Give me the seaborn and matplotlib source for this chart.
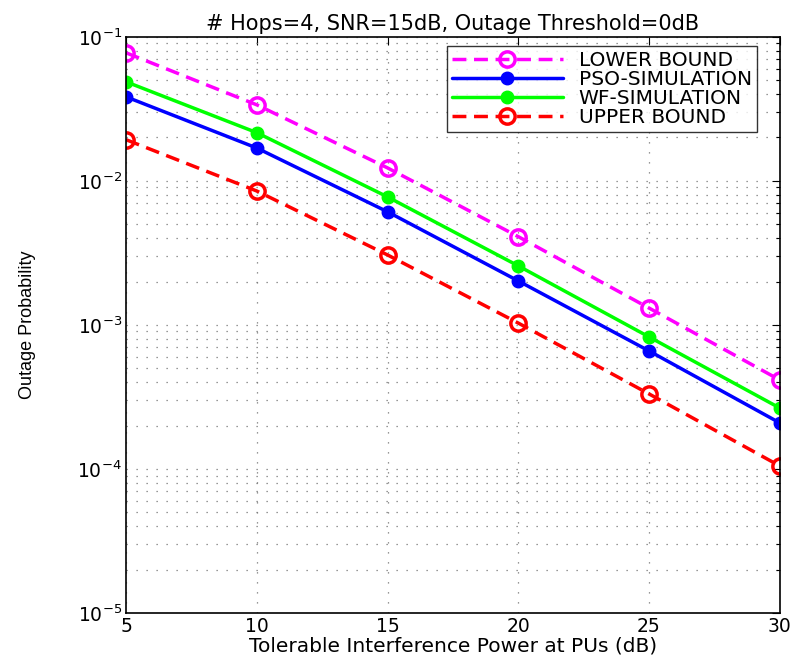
import numpy as np
import pandas as pd
import matplotlib
matplotlib.use("Agg")
import matplotlib.pyplot as plt
import seaborn as sns
from matplotlib.ticker import LogLocator, NullFormatter

x_db = [5, 10, 15, 20, 25, 30]
lower_bound = [0.0774, 0.0337, 0.0123, 0.0041, 0.00131, 0.000415]
pso_sim = [0.0383, 0.0169, 0.0061, 0.00202, 0.00066, 0.000209]
wf_sim = [0.0487, 0.0216, 0.00774, 0.00257, 0.000826, 0.000265]
upper_bound = [0.0193, 0.0085, 0.00306, 0.00103, 0.000332, 0.000105]

series_names = ["LOWER BOUND", "PSO-SIMULATION", "WF-SIMULATION", "UPPER BOUND"]
series_vals = [lower_bound, pso_sim, wf_sim, upper_bound]

sns.set_style("white")
plt.rcParams['font.family'] = ['DejaVu Sans']
plt.rcParams['mathtext.fontset'] = 'dejavusans'
plt.rcParams['text.color'] = 'black'
plt.rcParams['axes.labelcolor'] = 'black'

fig = plt.figure(figsize=(7.98, 6.57), dpi=100)
ax = fig.add_axes([0.158, 0.067, 0.819, 0.877])

styles = {
    "LOWER BOUND": dict(color="#ff00ff", ls=(0, (4, 2.2)), fill=False),
    "PSO-SIMULATION": dict(color="#0000ff", ls="-", fill=True),
    "WF-SIMULATION": dict(color="#00ff00", ls="-", fill=True),
    "UPPER BOUND": dict(color="#ff0000", ls=(0, (4, 2.2)), fill=False),
}

for name, vals in zip(series_names, series_vals):
    st = styles[name]
    df = pd.DataFrame({"x": x_db, "y": vals})
    sns.lineplot(data=df, x="x", y="y", ax=ax, color=st["color"], linewidth=2.5,
                 linestyle=st["ls"], marker="o",
                 markersize=11 if not st["fill"] else 9,
                 markerfacecolor=st["color"] if st["fill"] else "none",
                 markeredgecolor=st["color"], markeredgewidth=2.5 if not st["fill"] else 1,
                 label=name)

ax.set_yscale("log")
ax.set_xlim(5, 30)
ax.set_ylim(1e-5, 1e-1)
ax.set_xticks(x_db)
ax.yaxis.set_major_locator(LogLocator(base=10, numticks=10))
ax.yaxis.set_minor_locator(LogLocator(base=10, subs=np.arange(2, 10), numticks=100))
ax.yaxis.set_minor_formatter(NullFormatter())
ax.tick_params(axis="both", which="both", direction="in", top=True, right=True,
               labelsize=13.5, colors="black", pad=3)
ax.tick_params(axis="both", which="major", length=6, width=0.8)
ax.tick_params(axis="y", which="minor", length=3, width=0.8)
ax.grid(True, which="major", axis="both", linestyle=(0, (1, 7)), color="#777777", linewidth=0.9)
ax.grid(True, which="minor", axis="y", linestyle=(0, (1, 7)), color="#777777", linewidth=0.9)
for sp in ax.spines.values():
    sp.set_color("black")
    sp.set_linewidth(1.2)

ax.set_xlabel("Tolerable Interference Power at PUs (dB)", fontsize=14.5, labelpad=0)
ax.set_ylabel("Outage Probability", fontsize=13, family=["Liberation Sans", "DejaVu Sans"], labelpad=30)
ax.set_title("# Hops=4, SNR=15dB, Outage Threshold=0dB", fontsize=15, pad=5)

leg = ax.legend(loc="upper right", bbox_to_anchor=(0.965, 0.984), borderaxespad=0,
                fontsize=14.5, frameon=True, fancybox=False,
                edgecolor="black", handlelength=5.5, borderpad=0.25, labelspacing=0.0,
                handletextpad=0.8)
leg.get_frame().set_linewidth(1.0)

fig.savefig("out.png", dpi=100)
